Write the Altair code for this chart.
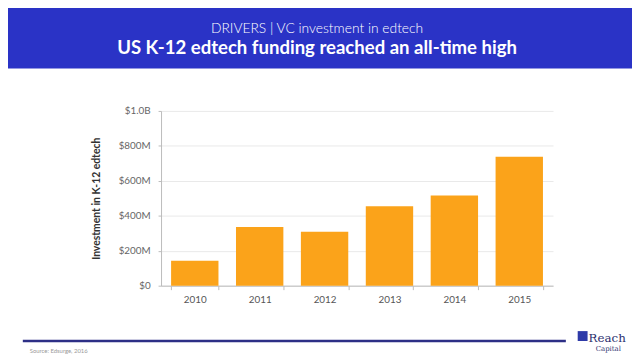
import altair as alt
import pandas as pd

years = ["2010", "2011", "2012", "2013", "2014", "2015"]
investment_m = [143, 336, 308, 455, 516, 738]
y_ticks = [0, 200, 400, 600, 800, 1000]

subtitle = ["DRIVERS | VC investment in edtech"]
title = ["US K-12 edtech funding reached an all-time high"]
y_title = "Investment in K-12 edtech"
source = ["Source: Edsurge, 2016"]
logo_top = ["Reach"]
logo_bottom = ["Capital"]

df = pd.DataFrame({"year": years, "inv": investment_m})

W, H = 397, 177
OX, OY = 163, 110  # page position of plot origin


def px(v):
    return alt.value(v - OX)


def py(v):
    return alt.value(v - OY)


one = pd.DataFrame({"k": [0]})

header = alt.Chart(one).mark_rect(color="#2a33c6").encode(
    x=px(0), x2=px(640), y=py(0), y2=py(67)
)

sub = alt.Chart(pd.DataFrame({"t": subtitle})).mark_text(
    font="Lato", fontSize=14, fontWeight=300, color="#ffffff", align="center", baseline="alphabetic"
).encode(x=px(321), y=py(31), text="t:N")

ttl = alt.Chart(pd.DataFrame({"t": title})).mark_text(
    font="Lato", fontSize=18.8, fontWeight="bold", color="#ffffff", align="center", baseline="alphabetic"
).encode(x=px(321), y=py(52), text="t:N")

bars = alt.Chart(df).mark_bar(color="#fba31a").encode(
    x=alt.X(
        "year:N",
        sort=years,
        title=None,
        scale=alt.Scale(paddingInner=0.27, paddingOuter=0.155),
        axis=alt.Axis(
            labelAngle=0,
            tickBand="extent",
            tickSize=4,
            tickColor="#bbbbbb",
            domainColor="#bbbbbb",
            labelColor="#555555",
            labelFont="Lato",
            labelFontSize=10,
            labelPadding=5,
            grid=False,
        ),
    ),
    y=alt.Y(
        "inv:Q",
        title=y_title,
        scale=alt.Scale(domain=[0, 1000], nice=False),
        axis=alt.Axis(
            values=y_ticks,
            labelExpr="datum.value == 0 ? '$0' : datum.value >= 1000 ? '$' + format(datum.value/1000, '.1f') + 'B' : '$' + datum.value + 'M'",
            tickSize=3,
            tickColor="#bbbbbb",
            domainColor="#bbbbbb",
            gridColor="#e9e9e9",
            labelColor="#666666",
            labelFont="Lato",
            labelFontSize=10,
            labelPadding=8,
            titleFont="Lato",
            titleFontSize=10.5,
            titleFontWeight="bold",
            titleColor="#333333",
            titleX=98 - OX,
            titleY=H / 2,
            titleAngle=270,
            titleAlign="center",
            titleBaseline="middle",
        ),
    ),
)

line = alt.Chart(one).mark_rule(color="#2d2f86", strokeWidth=2.5).encode(
    x=px(23), x2=px(573), y=py(343)
)

src = alt.Chart(pd.DataFrame({"t": source})).mark_text(
    font="Lato", fontSize=6, color="#999999", align="left", baseline="alphabetic"
).encode(x=px(30), y=py(355), text="t:N")

logo_sq = alt.Chart(one).mark_rect(color="#2e3aa8").encode(
    x=px(585), x2=px(595), y=py(333), y2=py(343)
)

logo_t1 = alt.Chart(pd.DataFrame({"t": logo_top})).mark_text(
    font="DejaVu Serif", fontSize=12, color="#2b2f6e", align="left", baseline="alphabetic"
).encode(x=px(596), y=py(344), text="t:N")

logo_t2 = alt.Chart(pd.DataFrame({"t": logo_bottom})).mark_text(
    font="DejaVu Serif", fontSize=7, color="#2b2f6e", align="center", baseline="alphabetic"
).encode(x=px(616), y=py(353), text="t:N")

chart = alt.layer(header, sub, ttl, bars, line, src, logo_sq, logo_t1, logo_t2).properties(
    width=W,
    height=H,
    autosize=alt.AutoSizeParams(type="none"),
    padding={"left": OX - 8, "top": OY - 8, "right": 632 - (OX - 8) - W, "bottom": 351 - (OY - 8) - H},
    background="#ffffff",
).configure_view(stroke=None)

chart.save("out.html", embed_options={"renderer": "svg", "actions": False})
